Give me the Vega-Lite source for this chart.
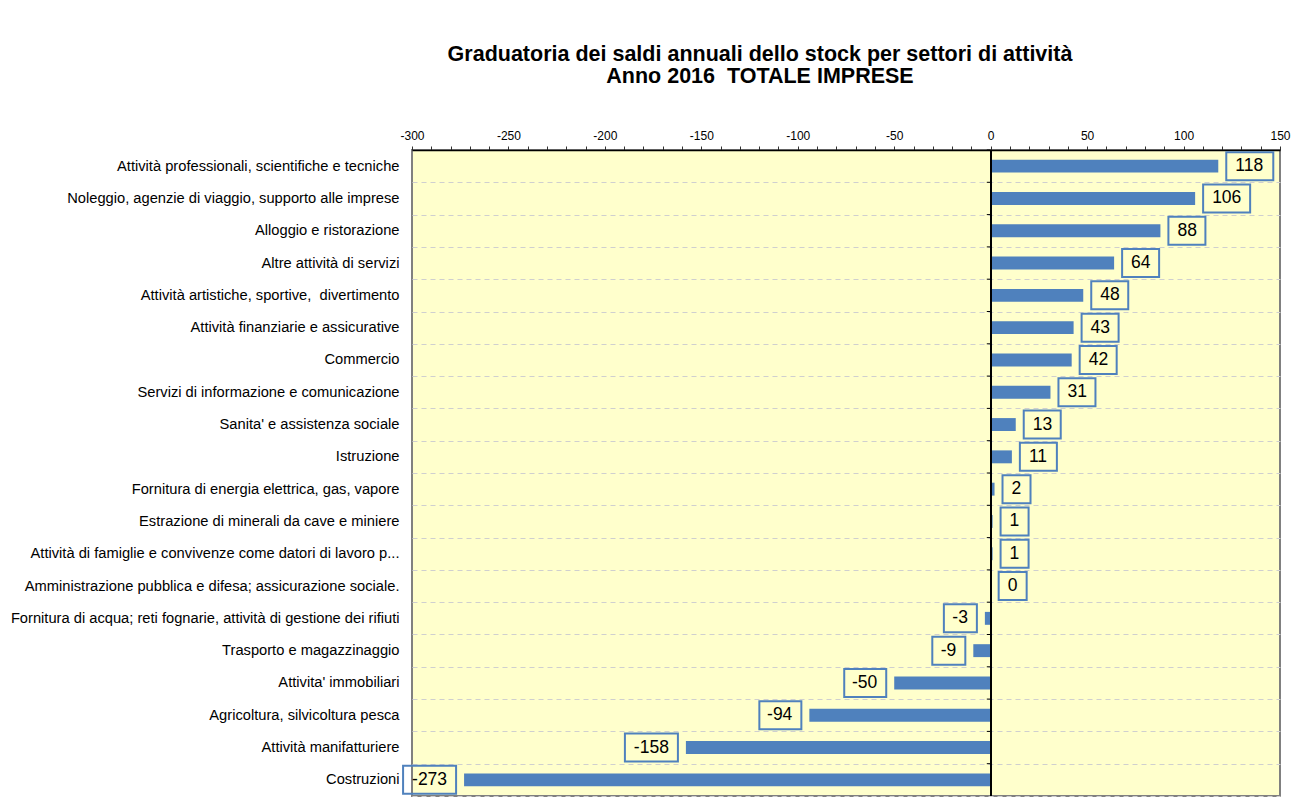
{
  "$schema": "https://vega.github.io/schema/vega-lite/v6.json",
  "autosize": {"type": "none"},
  "padding": {"left": 412, "top": 150, "right": 28, "bottom": 15},
  "width": 868,
  "height": 646,
  "background": "white",
  "title": {
    "text": ["Graduatoria dei saldi annuali dello stock per settori di attività", "Anno 2016\u00a0 TOTALE IMPRESE"],
    "font": "Liberation Sans",
    "fontSize": 21.5,
    "fontWeight": "bold",
    "color": "black",
    "lineHeight": 22,
    "anchor": "middle",
    "dx": -86,
    "offset": 42
  },
  "config": {
    "view": {"fill": "#FFFFCC", "stroke": "#808080", "strokeWidth": 2},
    "font": "Liberation Sans",
    "locale": {"number": {"decimal": ".", "thousands": ",", "grouping": [3], "currency": ["", ""], "minus": "-"}}
  },
  "data": {
    "values": [
      {"cat": "Attività professionali, scientifiche e tecniche", "v": 118},
      {"cat": "Noleggio, agenzie di viaggio, supporto alle imprese", "v": 106},
      {"cat": "Alloggio e ristorazione", "v": 88},
      {"cat": "Altre attività di servizi", "v": 64},
      {"cat": "Attività artistiche, sportive,\u00a0 divertimento", "v": 48},
      {"cat": "Attività finanziarie e assicurative", "v": 43},
      {"cat": "Commercio\u00a0", "v": 42},
      {"cat": "Servizi di informazione e comunicazione", "v": 31},
      {"cat": "Sanita' e assistenza sociale", "v": 13},
      {"cat": "Istruzione", "v": 11},
      {"cat": "Fornitura di energia elettrica, gas, vapore\u00a0", "v": 2},
      {"cat": "Estrazione di minerali da cave e miniere", "v": 1},
      {"cat": "Attività di famiglie e convivenze come datori di lavoro p...", "v": 1},
      {"cat": "Amministrazione pubblica e difesa; assicurazione sociale.", "v": 0},
      {"cat": "Fornitura di acqua; reti fognarie, attività di gestione dei rifiuti", "v": -3},
      {"cat": "Trasporto e magazzinaggio", "v": -9},
      {"cat": "Attivita' immobiliari", "v": -50},
      {"cat": "Agricoltura, silvicoltura pesca", "v": -94},
      {"cat": "Attività manifatturiere", "v": -158},
      {"cat": "Costruzioni", "v": -273}
    ]
  },
  "transform": [
    {"calculate": "(datum.v < 0 ? 'n' : 'p') + length(toString(abs(datum.v)))", "as": "key"}
  ],
  "encoding": {
    "y": {
      "field": "cat",
      "type": "nominal",
      "sort": null,
      "scale": {"paddingInner": 0, "paddingOuter": 0},
      "axis": {
        "title": null,
        "orient": "left",
        "labelFontSize": 14.7,
        "labelColor": "black",
        "labelFont": "Liberation Sans",
        "labelPadding": 13,
        "labelLimit": 600,
        "ticks": false,
        "domain": false,
        "grid": true,
        "tickBand": "extent",
        "gridDash": [5, 4],
        "gridColor": "#cfcfcf",
        "gridWidth": 1
      }
    },
    "x": {
      "field": "v",
      "type": "quantitative",
      "scale": {"domain": [-300, 150], "nice": false, "zero": true},
      "axis": {
        "orient": "top",
        "title": null,
        "values": [-300,-290,-280,-270,-260,-250,-240,-230,-220,-210,-200,-190,-180,-170,-160,-150,-140,-130,-120,-110,-100,-90,-80,-70,-60,-50,-40,-30,-20,-10,0,10,20,30,40,50,60,70,80,90,100,110,120,130,140,150],
        "labelExpr": "datum.value % 50 == 0 ? datum.label : ''",
        "labelFontSize": 12,
        "labelColor": "black",
        "labelFont": "Liberation Sans",
        "labelPadding": 4,
        "tickSize": 4,
        "tickColor": "#333333",
        "domainColor": "black",
        "domainWidth": 1.5,
        "grid": false,
        "labelFlush": false,
        "labelOverlap": false,
        "labelBound": false
      }
    }
  },
  "layer": [
    {
      "mark": {"type": "bar", "color": "#4F81BD", "height": {"band": 0.4}}
    },
    {
      "mark": {"type": "rule", "color": "black", "strokeWidth": 1.2},
      "encoding": {"x": {"datum": 0}, "y": null}
    },
    {
      "mark": {"type": "rule", "color": "black", "strokeWidth": 1},
      "encoding": {
        "x": {"datum": 0},
        "x2": {"datum": -2},
        "y": {"field": "cat", "type": "nominal", "sort": null, "bandPosition": 0}
      }
    },
    {
      "mark": {"type": "point", "filled": false, "stroke": "#4F81BD", "strokeWidth": 2, "opacity": 1, "size": 784, "clip": false},
      "encoding": {
        "shape": {
          "field": "key",
          "type": "nominal",
          "legend": null,
          "scale": {
            "domain": ["p1", "p2", "p3", "n1", "n2", "n3"],
            "range": [
              "M0.571,-1H2.571V1H0.571Z",
              "M0.571,-1H3.214V1H0.571Z",
              "M0.571,-1H3.929V1H0.571Z",
              "M-2.929,-1H-0.571V1H-2.929Z",
              "M-3.571,-1H-0.571V1H-3.571Z",
              "M-4.357,-1H-0.571V1H-4.357Z"
            ]
          }
        }
      }
    },
    {
      "transform": [{"filter": "datum.v >= 0"}],
      "mark": {"type": "text", "align": "left", "baseline": "middle", "dx": 17, "fontSize": 17.5, "font": "Liberation Sans", "color": "black"},
      "encoding": {
        "text": {"field": "v", "type": "nominal"}
      }
    },
    {
      "transform": [{"filter": "datum.v < 0"}],
      "mark": {"type": "text", "align": "right", "baseline": "middle", "dx": -17, "fontSize": 17.5, "font": "Liberation Sans", "color": "black"},
      "encoding": {
        "text": {"field": "v", "type": "nominal"}
      }
    }
  ]
}
